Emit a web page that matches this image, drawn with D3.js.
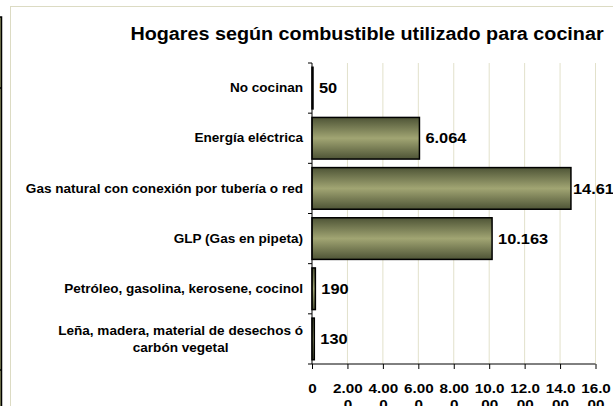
<!DOCTYPE html>
<html>
<head>
<meta charset="utf-8">
<script src="https://cdn.jsdelivr.net/npm/d3@7"></script>
<style>
  html, body { margin: 0; padding: 0; background: #ffffff; overflow: hidden; }
  svg { display: block; font-family: "Liberation Sans", Arial, sans-serif; }
</style>
</head>
<body>
<div id="chart"></div>
<script>
// Hogares según combustible utilizado para cocinar — horizontal bars
const categories = [
  'No cocinan',
  'Energía eléctrica',
  'Gas natural con conexión por tubería o red',
  'GLP (Gas en pipeta)',
  'Petróleo, gasolina, kerosene, cocinol',
  'Leña, madera, material de desechos ó\ncarbón vegetal'
];
const values = [50, 6064, 14614, 10163, 190, 130];
const xTicks = [0, 2000, 4000, 6000, 8000, 10000, 12000, 14000, 16000];
const title = 'Hogares según combustible utilizado para cocinar';

const width = 613, height = 406;
const plot = { left: 312, right: 595.5, top: 63, bottom: 364 };
const SX = 1.13; // the original text is rendered wider than Liberation Sans

const locale = d3.formatLocale({ decimal: ',', thousands: '.', grouping: [3], currency: ['', ''] });
const fmt = locale.format(',d');

function place(sel, px, py) {
  return sel.attr('transform', 'translate(' + px + ',' + py + ') scale(' + SX + ',1)');
}

const svg = d3.select('#chart').append('svg')
  .attr('width', width)
  .attr('height', height);

// bar gradient (dark edges, light middle)
const grad = svg.append('defs').append('linearGradient')
  .attr('id', 'olive')
  .attr('x1', 0).attr('y1', 0).attr('x2', 0).attr('y2', 1);
grad.append('stop').attr('offset', '0%').attr('stop-color', '#4e5436');
grad.append('stop').attr('offset', '50%').attr('stop-color', '#a1a573');
grad.append('stop').attr('offset', '100%').attr('stop-color', '#4e5436');

// piece of neighbouring object on the far left
svg.append('rect')
  .attr('x', -3).attr('y', 17).attr('width', 4.5).attr('height', 400)
  .attr('fill', '#8a8d5e').attr('stroke', '#000').attr('stroke-width', 1.5);
[88, 370].forEach(function(y) {
  svg.append('line').attr('x1', 0).attr('x2', 2).attr('y1', y).attr('y2', y)
    .attr('stroke', '#000').attr('stroke-width', 1.5);
});

// chart area border
svg.append('rect')
  .attr('x', 10.5).attr('y', 6.5).attr('width', 620).attr('height', 420)
  .attr('fill', '#fff').attr('stroke', '#dcdbc3').attr('stroke-width', 1);

const x = d3.scaleLinear().domain([0, 16000]).range([plot.left, plot.right]);
const y = d3.scaleBand().domain(categories).range([plot.top, plot.bottom]).paddingInner(0.17).paddingOuter(0.085);

// gridlines
svg.append('g')
  .selectAll('line')
  .data(xTicks.slice(1))
  .join('line')
  .attr('x1', d => x(d)).attr('x2', d => x(d))
  .attr('y1', plot.top).attr('y2', plot.bottom)
  .attr('stroke', '#e2e1cb').attr('stroke-width', 1);

// title
place(svg.append('text'), 367, 40)
  .attr('text-anchor', 'middle')
  .attr('font-size', 17.5).attr('font-weight', 'bold')
  .attr('fill', '#000')
  .text(title);

// bars
svg.append('g')
  .selectAll('rect')
  .data(values)
  .join('rect')
  .attr('x', x(0))
  .attr('y', (d, i) => y(categories[i]))
  .attr('width', d => Math.max(x(d) - x(0), 1))
  .attr('height', y.bandwidth())
  .attr('fill', 'url(#olive)')
  .attr('stroke', '#000').attr('stroke-width', 1.5);

// value labels
svg.append('g')
  .selectAll('text')
  .data(values)
  .join('text')
  .attr('transform', (d, i) => 'translate(' + (x(d) + (x(d) + 45 > width ? 2 : 6)) + ',' +
    (y(categories[i]) + y.bandwidth() / 2) + ') scale(' + SX + ',1)')
  .attr('dy', '0.36em')
  .attr('font-size', 14.5).attr('font-weight', 'bold')
  .attr('fill', '#000')
  .text(d => fmt(d));

// x axis
const xAxis = svg.append('g')
  .attr('transform', 'translate(0,' + plot.bottom + ')')
  .call(d3.axisBottom(x).tickValues(xTicks).tickSize(5).tickSizeOuter(0).tickFormat(''));
xAxis.select('.domain').attr('stroke', '#000').attr('d', 'M' + plot.left + ',0H' + plot.right);
xAxis.selectAll('.tick line').attr('stroke', '#000').attr('y1', 0).attr('y2', 5);
xAxis.selectAll('.tick').append('text')
  .attr('transform', 'scale(' + SX + ',1)')
  .attr('text-anchor', 'middle')
  .attr('fill', '#000')
  .attr('font-size', 13.5).attr('font-weight', 'bold')
  .each(function(d) {
    const s = fmt(d);
    const t = d3.select(this);
    t.append('tspan').attr('x', 0).attr('y', 29).text(s.slice(0, 4));
    if (s.length > 4) t.append('tspan').attr('x', 0).attr('y', 45).text(s.slice(4));
  });

// y axis
const yAxis = svg.append('g')
  .attr('transform', 'translate(' + plot.left + ',0)');
yAxis.append('line')
  .attr('x1', 0).attr('x2', 0).attr('y1', plot.top).attr('y2', plot.bottom)
  .attr('stroke', '#000');
const step = (plot.bottom - plot.top) / categories.length;
yAxis.selectAll('line.tk')
  .data(d3.range(categories.length + 1))
  .join('line')
  .attr('class', 'tk')
  .attr('x1', -4).attr('x2', 0)
  .attr('y1', i => plot.top + i * step).attr('y2', i => plot.top + i * step)
  .attr('stroke', '#000');

// category labels
yAxis.selectAll('text.cat')
  .data(categories)
  .join('text')
  .attr('class', 'cat')
  .attr('transform', 'translate(-9,0) scale(' + SX + ',1)')
  .attr('font-size', 12).attr('font-weight', 'bold')
  .attr('fill', '#000')
  .each(function(c) {
    const lines = c.split('\n');
    const t = d3.select(this);
    const cy = y(c) + y.bandwidth() / 2;
    const first = t.append('tspan')
      .attr('text-anchor', 'end')
      .attr('x', 0)
      .attr('y', cy - (lines.length - 1) * 8.5)
      .attr('dy', '0.35em')
      .text(lines[0]);
    if (lines.length > 1) {
      const w = first.node().getComputedTextLength();
      lines.slice(1).forEach(function(l, k) {
        t.append('tspan')
          .attr('text-anchor', 'middle')
          .attr('x', -w / 2)
          .attr('y', cy - (lines.length - 1) * 8.5 + 17 * (k + 1))
          .attr('dy', '0.35em')
          .text(l);
      });
    }
  });
</script>
</body>
</html>
